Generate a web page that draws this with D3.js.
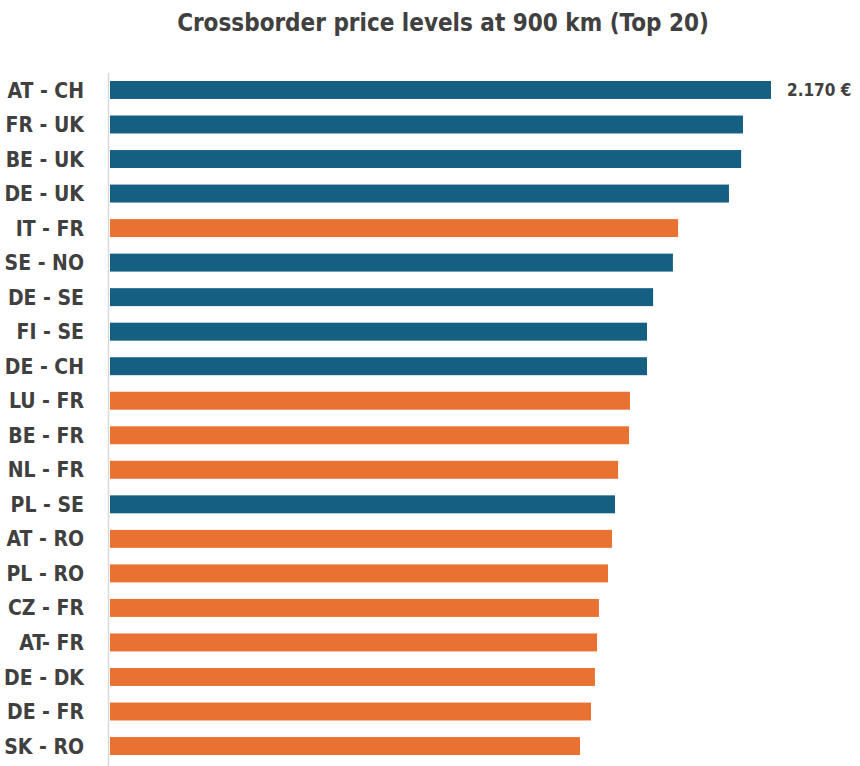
<!DOCTYPE html>
<html><head><meta charset="utf-8">
<script src="https://cdn.jsdelivr.net/npm/d3@7"></script>
<style>
html,body{margin:0;padding:0;background:#fff;}
svg{display:block;}
</style></head>
<body>
<svg id="chart" width="860" height="766"></svg>
<script>
const categories = ["AT - CH","FR - UK","BE - UK","DE - UK","IT - FR","SE - NO","DE - SE","FI - SE","DE - CH","LU - FR","BE - FR","NL - FR","PL - SE","AT - RO","PL - RO","CZ - FR","AT- FR","DE - DK","DE - FR","SK - RO"];
const values = [2170,2078,2072,2032,1865,1848,1783,1763,1763,1707,1704,1668,1658,1648,1635,1605,1599,1592,1579,1543];
const groups = ["A","A","A","A","B","A","A","A","A","B","B","B","A","B","B","B","B","B","B","B"];
const labelledValue = ["2.170 €"];
const title = "Crossborder price levels at 900 km (Top 20)";

const font = "'Liberation Sans Narrow','DejaVu Sans Condensed','Liberation Sans',sans-serif";
const svg = d3.select("#chart");
const x = d3.scaleLinear().domain([0, 2170]).range([110, 771]);
const y = d3.scaleBand().domain(categories).range([72.7, 763.3]).paddingInner(0.48).paddingOuter(0.24);
const color = d3.scaleOrdinal().domain(["A","B"]).range(["#156082","#E97132"]);

svg.append("text").attr("x", 443).attr("y", 31).attr("text-anchor","middle")
  .attr("font-family", font).attr("font-weight","bold").attr("font-size", 24)
  .attr("fill","#404040").text(title);

svg.selectAll("rect.bar").data(categories).join("rect").attr("class","bar")
  .attr("x", x(0)).attr("y", d => y(d))
  .attr("width", (d,i) => x(values[i]) - x(0))
  .attr("height", y.bandwidth())
  .attr("fill", (d,i) => color(groups[i]));

svg.append("line").attr("x1",108.5).attr("x2",108.5).attr("y1",73).attr("y2",766)
  .attr("stroke","#d9d9d9").attr("stroke-width",1.5);

svg.selectAll("text.cat").data(categories).join("text").attr("class","cat")
  .attr("x", 84).attr("y", d => y(d) + y.bandwidth()/2).attr("dy","0.36em")
  .attr("text-anchor","end").attr("font-family", font).attr("font-weight","bold")
  .attr("font-size", 21).attr("fill","#404040").text(d => d);

svg.append("text").attr("x", x(values[0]) + 16).attr("y", y(categories[0]) + y.bandwidth()/2)
  .attr("dy","0.36em").attr("font-family", font).attr("font-weight","bold")
  .attr("font-size", 17).attr("fill","#404040").text(labelledValue[0]);
</script>
</body></html>
